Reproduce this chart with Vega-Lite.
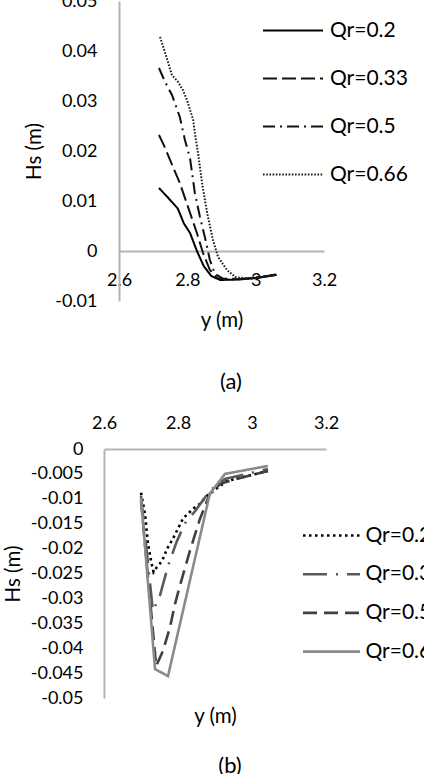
{
  "$schema": "https://vega.github.io/schema/vega-lite/v6.json",
  "padding": {"left": 3, "top": -8, "right": 0, "bottom": 0},
  "spacing": 21,
  "resolve": {"scale": {"color": "independent", "strokeDash": "independent"}},
  "config": {
    "font": "Lato",
    "view": {"stroke": null},
    "axis": {"domainColor": "#b4b4b4", "domainWidth": 2, "ticks": false, "grid": false, "labelFont": "Lato", "labelFontSize": 18, "labelColor": "#000", "labelFlush": false, "labelOverlap": false, "titleFont": "Lato", "titleFontSize": 20.5, "titleFontWeight": "normal", "titleColor": "#000"},
    "title": {"font": "Lato", "fontSize": 22, "fontWeight": "normal", "color": "#000"}
  },
  "datasets": {
    "a": [
      {"qr": "Qr=0.2", "y": 2.717, "hs": 0.0126}, {"qr": "Qr=0.2", "y": 2.743, "hs": 0.0107}, {"qr": "Qr=0.2", "y": 2.772, "hs": 0.0085}, {"qr": "Qr=0.2", "y": 2.79, "hs": 0.0055}, {"qr": "Qr=0.2", "y": 2.808, "hs": 0.0036}, {"qr": "Qr=0.2", "y": 2.828, "hs": 0.0}, {"qr": "Qr=0.2", "y": 2.848, "hs": -0.003}, {"qr": "Qr=0.2", "y": 2.87, "hs": -0.005}, {"qr": "Qr=0.2", "y": 2.896, "hs": -0.0058}, {"qr": "Qr=0.2", "y": 2.95, "hs": -0.0057}, {"qr": "Qr=0.2", "y": 3.0, "hs": -0.0054}, {"qr": "Qr=0.2", "y": 3.06, "hs": -0.0048},
      {"qr": "Qr=0.33", "y": 2.717, "hs": 0.0232}, {"qr": "Qr=0.33", "y": 2.735, "hs": 0.0206}, {"qr": "Qr=0.33", "y": 2.758, "hs": 0.0168}, {"qr": "Qr=0.33", "y": 2.778, "hs": 0.0136}, {"qr": "Qr=0.33", "y": 2.808, "hs": 0.0076}, {"qr": "Qr=0.33", "y": 2.828, "hs": 0.0036}, {"qr": "Qr=0.33", "y": 2.846, "hs": -0.0004}, {"qr": "Qr=0.33", "y": 2.866, "hs": -0.0038}, {"qr": "Qr=0.33", "y": 2.887, "hs": -0.0054}, {"qr": "Qr=0.33", "y": 2.92, "hs": -0.0057}, {"qr": "Qr=0.33", "y": 2.97, "hs": -0.0056}, {"qr": "Qr=0.33", "y": 3.02, "hs": -0.0052}, {"qr": "Qr=0.33", "y": 3.06, "hs": -0.0047},
      {"qr": "Qr=0.5", "y": 2.717, "hs": 0.0366}, {"qr": "Qr=0.5", "y": 2.735, "hs": 0.0338}, {"qr": "Qr=0.5", "y": 2.755, "hs": 0.0312}, {"qr": "Qr=0.5", "y": 2.778, "hs": 0.0268}, {"qr": "Qr=0.5", "y": 2.793, "hs": 0.0222}, {"qr": "Qr=0.5", "y": 2.808, "hs": 0.0185}, {"qr": "Qr=0.5", "y": 2.822, "hs": 0.0116}, {"qr": "Qr=0.5", "y": 2.837, "hs": 0.0068}, {"qr": "Qr=0.5", "y": 2.852, "hs": 0.0026}, {"qr": "Qr=0.5", "y": 2.866, "hs": -0.0018}, {"qr": "Qr=0.5", "y": 2.881, "hs": -0.0046}, {"qr": "Qr=0.5", "y": 2.904, "hs": -0.0055}, {"qr": "Qr=0.5", "y": 2.95, "hs": -0.0056}, {"qr": "Qr=0.5", "y": 3.0, "hs": -0.0053}, {"qr": "Qr=0.5", "y": 3.06, "hs": -0.0047},
      {"qr": "Qr=0.66", "y": 2.72, "hs": 0.0428}, {"qr": "Qr=0.66", "y": 2.738, "hs": 0.039}, {"qr": "Qr=0.66", "y": 2.755, "hs": 0.0352}, {"qr": "Qr=0.66", "y": 2.773, "hs": 0.0338}, {"qr": "Qr=0.66", "y": 2.787, "hs": 0.0322}, {"qr": "Qr=0.66", "y": 2.799, "hs": 0.0302}, {"qr": "Qr=0.66", "y": 2.817, "hs": 0.0262}, {"qr": "Qr=0.66", "y": 2.825, "hs": 0.0222}, {"qr": "Qr=0.66", "y": 2.831, "hs": 0.0198}, {"qr": "Qr=0.66", "y": 2.843, "hs": 0.0136}, {"qr": "Qr=0.66", "y": 2.858, "hs": 0.0076}, {"qr": "Qr=0.66", "y": 2.875, "hs": 0.0022}, {"qr": "Qr=0.66", "y": 2.89, "hs": -0.0012}, {"qr": "Qr=0.66", "y": 2.916, "hs": -0.0038}, {"qr": "Qr=0.66", "y": 2.94, "hs": -0.0052}, {"qr": "Qr=0.66", "y": 2.983, "hs": -0.0056}, {"qr": "Qr=0.66", "y": 3.062, "hs": -0.0048}
    ],
    "b": [
      {"qr": "Qr=0.2", "y": 2.7, "hs": -0.0088}, {"qr": "Qr=0.2", "y": 2.711, "hs": -0.0131}, {"qr": "Qr=0.2", "y": 2.719, "hs": -0.0191}, {"qr": "Qr=0.2", "y": 2.728, "hs": -0.0228}, {"qr": "Qr=0.2", "y": 2.734, "hs": -0.0247}, {"qr": "Qr=0.2", "y": 2.743, "hs": -0.0237}, {"qr": "Qr=0.2", "y": 2.757, "hs": -0.0225}, {"qr": "Qr=0.2", "y": 2.77, "hs": -0.0201}, {"qr": "Qr=0.2", "y": 2.787, "hs": -0.0179}, {"qr": "Qr=0.2", "y": 2.814, "hs": -0.0139}, {"qr": "Qr=0.2", "y": 2.841, "hs": -0.012}, {"qr": "Qr=0.2", "y": 2.859, "hs": -0.011}, {"qr": "Qr=0.2", "y": 2.878, "hs": -0.0094}, {"qr": "Qr=0.2", "y": 2.932, "hs": -0.0064}, {"qr": "Qr=0.2", "y": 2.968, "hs": -0.0058}, {"qr": "Qr=0.2", "y": 3.043, "hs": -0.0044},
      {"qr": "Qr=0.33", "y": 2.7, "hs": -0.0094}, {"qr": "Qr=0.33", "y": 2.732, "hs": -0.0325}, {"qr": "Qr=0.33", "y": 2.751, "hs": -0.0295}, {"qr": "Qr=0.33", "y": 2.773, "hs": -0.0235}, {"qr": "Qr=0.33", "y": 2.797, "hs": -0.0185}, {"qr": "Qr=0.33", "y": 2.819, "hs": -0.0149}, {"qr": "Qr=0.33", "y": 2.846, "hs": -0.0125}, {"qr": "Qr=0.33", "y": 2.886, "hs": -0.0084}, {"qr": "Qr=0.33", "y": 2.927, "hs": -0.006}, {"qr": "Qr=0.33", "y": 3.043, "hs": -0.004},
      {"qr": "Qr=0.5", "y": 2.7, "hs": -0.0104}, {"qr": "Qr=0.5", "y": 2.741, "hs": -0.0436}, {"qr": "Qr=0.5", "y": 2.759, "hs": -0.0406}, {"qr": "Qr=0.5", "y": 2.778, "hs": -0.0359}, {"qr": "Qr=0.5", "y": 2.792, "hs": -0.0311}, {"qr": "Qr=0.5", "y": 2.805, "hs": -0.0275}, {"qr": "Qr=0.5", "y": 2.832, "hs": -0.0205}, {"qr": "Qr=0.5", "y": 2.859, "hs": -0.0141}, {"qr": "Qr=0.5", "y": 2.886, "hs": -0.009}, {"qr": "Qr=0.5", "y": 2.914, "hs": -0.007}, {"qr": "Qr=0.5", "y": 2.968, "hs": -0.0058}, {"qr": "Qr=0.5", "y": 3.022, "hs": -0.0048}, {"qr": "Qr=0.5", "y": 3.043, "hs": -0.0044},
      {"qr": "Qr=0.66", "y": 2.7, "hs": -0.0098}, {"qr": "Qr=0.66", "y": 2.738, "hs": -0.0442}, {"qr": "Qr=0.66", "y": 2.773, "hs": -0.0456}, {"qr": "Qr=0.66", "y": 2.886, "hs": -0.009}, {"qr": "Qr=0.66", "y": 2.927, "hs": -0.005}, {"qr": "Qr=0.66", "y": 3.043, "hs": -0.0034}
    ]
  },
  "vconcat": [
    {
      "width": 205,
      "height": 300,
      "data": {"name": "a"},
      "title": {"text": "(a)", "orient": "bottom", "frame": "group", "dx": 9.5, "offset": 41},
      "mark": {"type": "line", "strokeWidth": 2},
      "encoding": {
        "x": {"field": "y", "type": "quantitative", "scale": {"domain": [2.6, 3.2], "nice": false, "zero": false},
          "axis": {"orient": "bottom", "offset": -50, "values": [2.6, 2.8, 3.0, 3.2], "format": ".1~f", "labelPadding": 20, "title": "y (m)", "titlePadding": 21}},
        "y": {"field": "hs", "type": "quantitative", "scale": {"domain": [-0.01, 0.05], "nice": false, "zero": false},
          "axis": {"values": [-0.01, 0, 0.01, 0.02, 0.03, 0.04, 0.05], "labelExpr": "replace(format(datum.value, '.2~f'), '\u2212', '-')", "labelPadding": 22, "title": "Hs (m)", "titlePadding": 10}},
        "strokeDash": {"field": "qr", "type": "nominal",
          "scale": {"domain": ["Qr=0.2", "Qr=0.33", "Qr=0.5", "Qr=0.66"], "range": [[1, 0], [14, 5], [12, 5, 2, 5], [1.6, 1.6]]},
          "legend": {"orient": "none", "direction": "vertical", "legendX": 163.5, "legendY": 19, "title": null, "symbolType": "M-4,0H4", "symbolSize": 225, "symbolStrokeWidth": 2, "symbolOffset": 0, "labelFont": "Lato", "labelFontSize": 21, "labelColor": "#000", "labelOffset": 26.5, "rowPadding": 26, "padding": 0}},
        "color": {"field": "qr", "type": "nominal",
          "scale": {"domain": ["Qr=0.2", "Qr=0.33", "Qr=0.5", "Qr=0.66"], "range": ["#000000", "#111111", "#111111", "#1a1a1a"]},
          "legend": {"orient": "none", "direction": "vertical", "legendX": 163.5, "legendY": 19, "title": null, "symbolType": "M-4,0H4", "symbolSize": 225, "symbolStrokeWidth": 2, "symbolOffset": 0, "labelFont": "Lato", "labelFontSize": 21, "labelColor": "#000", "labelOffset": 26.5, "rowPadding": 26, "padding": 0}}
      }
    },
    {
      "width": 207,
      "height": 249,
      "data": {"name": "b"},
      "title": {"text": "(b)", "orient": "bottom", "frame": "group", "dx": 7.5, "offset": 29},
      "resolve": {"axis": {"x": "independent"}},
      "layer": [
        {
          "mark": {"type": "line", "strokeWidth": 2.6},
          "encoding": {
            "x": {"field": "y", "type": "quantitative", "scale": {"domain": [2.6, 3.2], "range": [-15, 207], "nice": false, "zero": false},
              "axis": {"orient": "top", "values": [2.6, 2.8, 3.0, 3.2], "format": ".1~f", "labelPadding": 17, "title": null}},
            "y": {"field": "hs", "type": "quantitative", "scale": {"domain": [-0.05, 0], "nice": false, "zero": false},
              "axis": {"offset": 15, "values": [0, -0.005, -0.01, -0.015, -0.02, -0.025, -0.03, -0.035, -0.04, -0.045, -0.05], "labelExpr": "replace(format(datum.value, '.3~f'), '\u2212', '-')", "labelPadding": 21, "title": "Hs (m)", "titlePadding": 7}},
            "strokeDash": {"field": "qr", "type": "nominal",
              "scale": {"domain": ["Qr=0.2", "Qr=0.33", "Qr=0.5", "Qr=0.66"], "range": [[2.5, 3.5], [24, 9, 2, 9], [14, 7], [1, 0]]},
              "legend": {"orient": "none", "direction": "vertical", "legendX": 202, "legendY": 76, "title": null, "symbolType": "M-3.8,0H3.8", "symbolSize": 225, "symbolStrokeWidth": 2.6, "symbolOffset": 0, "labelFont": "Lato", "labelFontSize": 21, "labelColor": "#000", "labelOffset": 23.5, "rowPadding": 16.7, "padding": 0}},
            "color": {"field": "qr", "type": "nominal",
              "scale": {"domain": ["Qr=0.2", "Qr=0.33", "Qr=0.5", "Qr=0.66"], "range": ["#000000", "#5a5a5a", "#404040", "#8a8a8a"]},
              "legend": {"orient": "none", "direction": "vertical", "legendX": 202, "legendY": 76, "title": null, "symbolType": "M-3.8,0H3.8", "symbolSize": 225, "symbolStrokeWidth": 2.6, "symbolOffset": 0, "labelFont": "Lato", "labelFontSize": 21, "labelColor": "#000", "labelOffset": 23.5, "rowPadding": 16.7, "padding": 0}}
          }
        },
        {
          "mark": {"type": "line", "opacity": 0},
          "encoding": {
            "x": {"field": "y", "type": "quantitative",
              "axis": {"orient": "bottom", "domain": false, "labels": false, "ticks": false, "title": "y (m)", "titlePadding": 8}},
            "y": {"field": "hs", "type": "quantitative",
              "axis": {"offset": 15, "values": [0, -0.005, -0.01, -0.015, -0.02, -0.025, -0.03, -0.035, -0.04, -0.045, -0.05], "labelExpr": "replace(format(datum.value, '.3~f'), '\u2212', '-')", "labelPadding": 21, "title": "Hs (m)", "titlePadding": 7}}
          }
        }
      ]
    }
  ]
}
